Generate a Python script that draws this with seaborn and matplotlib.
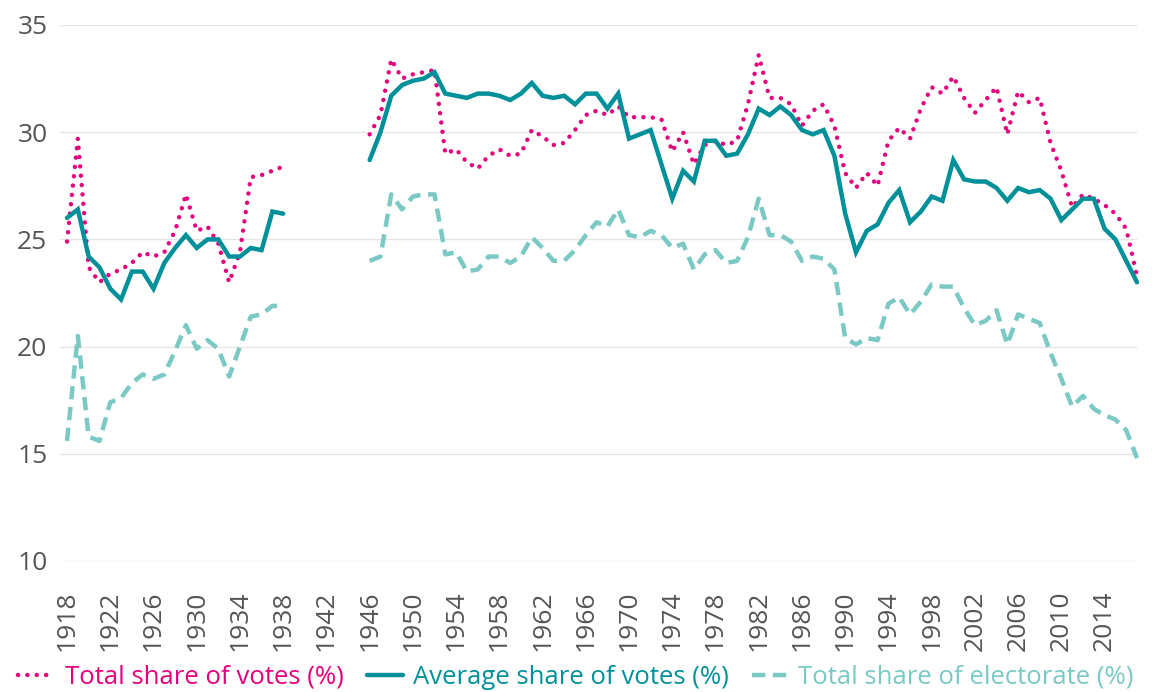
import numpy as np
import pandas as pd
import matplotlib
matplotlib.use("Agg")
import matplotlib.pyplot as plt
import seaborn as sns
from matplotlib.lines import Line2D

# ---- data ----
years_pre = list(range(1918, 1939))
years_post = list(range(1946, 2018))

total_votes_pre = [24.9, 29.7, 23.7, 23.0, 23.4, 23.6, 23.9, 24.4, 24.2, 24.4, 25.4,
                   27.1, 25.4, 25.6, 24.8, 23.0, 24.4, 27.9, 28.0, 28.2, 28.4]
avg_votes_pre = [26.0, 26.4, 24.2, 23.7, 22.7, 22.2, 23.5, 23.5, 22.7, 23.9, 24.6,
                 25.2, 24.6, 25.0, 25.0, 24.2, 24.2, 24.6, 24.5, 26.3, 26.2]
electorate_pre = [15.6, 20.5, 15.8, 15.6, 17.4, 17.6, 18.3, 18.7, 18.5, 18.7, 19.8,
                  21.0, 19.9, 20.3, 19.9, 18.6, 20.0, 21.4, 21.5, 21.9, 21.9]

total_votes_post = [29.9, 30.8, 33.4, 32.5, 32.7, 32.8, 32.9, 29.0, 29.2, 28.6,
                    28.3, 28.9, 29.2, 28.9, 29.0, 30.1, 29.8, 29.4, 29.5, 30.1,
                    30.8, 31.0, 30.8, 31.2, 30.7, 30.7, 30.7, 30.6, 29.1, 30.0,
                    28.5, 29.4, 29.6, 29.4, 29.6, 31.3, 33.6, 31.6, 31.6, 31.3,
                    30.3, 31.0, 31.3, 30.3, 28.1, 27.4, 28.1, 27.5, 29.6, 30.2,
                    29.7, 31.1, 32.1, 31.8, 32.6, 31.6, 30.9, 31.5, 32.1, 29.9,
                    31.9, 31.4, 31.6, 29.5, 28.2, 26.5, 27.1, 26.9, 26.6, 26.2,
                    25.5, 23.3]
avg_votes_post = [28.7, 30.0, 31.7, 32.2, 32.4, 32.5, 32.8, 31.8, 31.7, 31.6,
                  31.8, 31.8, 31.7, 31.5, 31.8, 32.3, 31.7, 31.6, 31.7, 31.3,
                  31.8, 31.8, 31.1, 31.8, 29.7, 29.9, 30.1, 28.5, 26.9, 28.2,
                  27.7, 29.6, 29.6, 28.9, 29.0, 29.9, 31.1, 30.8, 31.2, 30.8,
                  30.1, 29.9, 30.1, 28.9, 26.2, 24.4, 25.4, 25.7, 26.7, 27.3,
                  25.8, 26.3, 27.0, 26.8, 28.7, 27.8, 27.7, 27.7, 27.4, 26.8,
                  27.4, 27.2, 27.3, 26.9, 25.9, 26.4, 26.9, 26.9, 25.5, 25.0,
                  24.0, 23.0]
electorate_post = [24.0, 24.2, 27.1, 26.4, 27.0, 27.1, 27.1, 24.3, 24.4, 23.5,
                   23.6, 24.2, 24.2, 23.9, 24.2, 25.1, 24.6, 24.0, 24.0, 24.5,
                   25.2, 25.8, 25.6, 26.4, 25.2, 25.1, 25.4, 25.2, 24.6, 24.8,
                   23.6, 24.3, 24.5, 23.9, 24.0, 25.1, 26.9, 25.2, 25.2, 24.9,
                   24.0, 24.2, 24.1, 23.6, 20.4, 20.1, 20.4, 20.3, 22.0, 22.3,
                   21.5, 22.1, 22.9, 22.8, 22.8, 21.8, 21.0, 21.2, 21.7, 20.1,
                   21.5, 21.3, 21.1, 19.7, 18.5, 17.2, 17.7, 17.1, 16.8, 16.6,
                   16.1, 14.8]

tick_years = list(range(1918, 2015, 4))
y_ticks = [10, 15, 20, 25, 30, 35]

series_labels = ["Total share of votes (%)", "Average share of votes (%)",
                 "Total share of electorate (%)"]

# ---- style ----
PINK = "#E5007D"
TEAL = "#00909A"
LTEAL = "#7AC9C5"
GREY_TXT = "#555555"

sns.set_theme(style="white")
plt.rcParams["font.family"] = ["Open Sans", "DejaVu Sans"]
plt.rcParams["font.weight"] = 500

fig = plt.figure(figsize=(11.52, 6.92), dpi=100)
ax = fig.add_axes([60 / 1152, 1 - 561 / 692, (1137 - 60) / 1152, (561 - 25) / 692])

segments = [(years_pre, total_votes_pre, avg_votes_pre, electorate_pre),
            (years_post, total_votes_post, avg_votes_post, electorate_post)]

lw = 3.2
styles = [
    dict(color=PINK, linestyle=(0, (0.01, 2.1)), dash_capstyle="round"),
    dict(color=TEAL, linestyle="-", solid_joinstyle="miter"),
    dict(color=LTEAL, linestyle=(0, (3.0, 1.7)), dash_capstyle="butt"),
]

for yrs, tv, av, el in segments:
    df = pd.DataFrame({"year": yrs, "tv": tv, "av": av, "el": el})
    for col, st in zip(["el", "tv", "av"], [styles[2], styles[0], styles[1]]):
        sns.lineplot(data=df, x="year", y=col, ax=ax, lw=lw, clip_on=False,
                     estimator=None, **st)

ax.set_xlim(1917.35, 2017)
ax.set_ylim(10, 35)
ax.set_yticks(y_ticks)
ax.set_xticks(tick_years)
ax.set_xticklabels([str(t) for t in tick_years], rotation=90)
ax.set_xlabel("")
ax.set_ylabel("")
for s in ax.spines.values():
    s.set_visible(False)
ax.grid(axis="y", color="#e6e6e6", lw=1)
ax.grid(axis="x", visible=False)
ax.tick_params(axis="y", length=0, pad=9, labelsize=19, labelcolor=GREY_TXT)
ax.tick_params(axis="x", length=0, pad=21, labelsize=19, labelcolor=GREY_TXT)

handles = [Line2D([], [], lw=lw, **styles[0]),
           Line2D([], [], lw=lw, **styles[1]),
           Line2D([], [], lw=lw, **styles[2])]
leg = fig.legend(handles, series_labels, loc="center", bbox_to_anchor=(0.5, 1 - 677 / 692),
                 ncol=3, frameon=False, fontsize=18.5, handlelength=1.4, handletextpad=0.4,
                 columnspacing=0.9, labelcolor=[PINK, TEAL, LTEAL],
                 borderaxespad=0, borderpad=0)

fig.savefig("out.png", dpi=100)
